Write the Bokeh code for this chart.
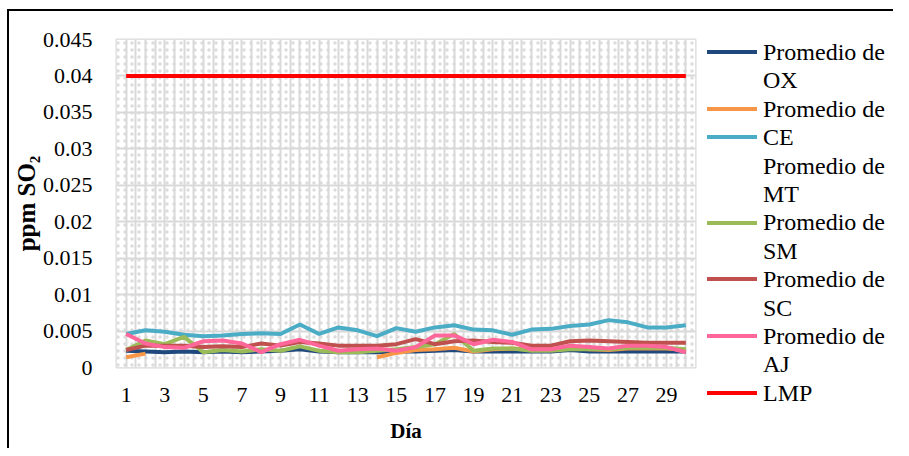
import math
from bokeh.plotting import figure
from bokeh.models import FixedTicker, Range1d, Div
from bokeh.layouts import row, column
from bokeh.embed import file_html
from bokeh.resources import INLINE

days = list(range(1, 31))
nan = float("nan")

ox = [0.0023, 0.0022, 0.0021, 0.0022, 0.0021, 0.0022, 0.0021, 0.0022, 0.0023, 0.0025,
      0.0022, 0.0021, 0.0021, 0.0021, 0.0022, 0.0022, 0.0023, 0.0024, 0.0022, 0.0022,
      0.0022, 0.0022, 0.0022, 0.0024, 0.0022, 0.0022, 0.0022, 0.0022, 0.0022, 0.0022]
ce = [0.0014, 0.0019, nan, nan, nan, nan, nan, nan, nan, nan,
      nan, nan, nan, 0.0014, 0.0020, 0.0024, 0.0025, 0.0027, 0.0022, 0.0025,
      0.0026, 0.0025, 0.0025, 0.0027, 0.0025, 0.0024, 0.0026, 0.0026, 0.0026, 0.0024]
mt = [0.0046, 0.0051, 0.0049, 0.0045, 0.0043, 0.0044, 0.0046, 0.0047, 0.0046, 0.0059,
      0.0046, 0.0055, 0.0051, 0.0043, 0.0054, 0.0049, 0.0055, 0.0058, 0.0052, 0.0051,
      0.0045, 0.0052, 0.0053, 0.0057, 0.0059, 0.0065, 0.0062, 0.0055, 0.0055, 0.0058]
sm = [0.0024, 0.0037, 0.0032, 0.0042, 0.0021, 0.0024, 0.0022, 0.0025, 0.0023, 0.0029,
      0.0023, 0.0021, 0.0021, 0.0023, 0.0025, 0.0028, 0.0032, 0.0046, 0.0023, 0.0026,
      0.0026, 0.0023, 0.0023, 0.0025, 0.0025, 0.0025, 0.0027, 0.0027, 0.0027, 0.0025]
sc = [0.0024, 0.0030, 0.0030, 0.0030, 0.0028, 0.0029, 0.0028, 0.0033, 0.0030, 0.0035,
      0.0033, 0.0030, 0.0030, 0.0030, 0.0032, 0.0039, 0.0032, 0.0036, 0.0037, 0.0035,
      0.0034, 0.0030, 0.0030, 0.0036, 0.0037, 0.0036, 0.0035, 0.0034, 0.0034, 0.0034]
aj = [0.0046, 0.0033, 0.0028, 0.0027, 0.0036, 0.0037, 0.0033, 0.0021, 0.0032, 0.0038,
      0.0030, 0.0023, 0.0025, 0.0026, 0.0023, 0.0028, 0.0044, 0.0044, 0.0032, 0.0038,
      0.0035, 0.0025, 0.0025, 0.0030, 0.0028, 0.0026, 0.0030, 0.0030, 0.0028, 0.0021]
lmp = [0.04] * 30

series_keys = ["OX", "CE", "MT", "SM", "SC", "AJ", "LMP"]
series_values = [ox, ce, mt, sm, sc, aj, lmp]
series_colors = ["#1F497D", "#F79646", "#4BACC6", "#9BBB59", "#C0504D", "#FF6699", "#FF0000"]
label_prefix = "Promedio de"

x_ticks = list(range(1, 30, 2))
y_ticks = [0, 0.005, 0.01, 0.015, 0.02, 0.025, 0.03, 0.035, 0.04, 0.045]
y_tick_labels = ["0", "0.005", "0.01", "0.015", "0.02", "0.025", "0.03", "0.035", "0.04", "0.045"]

FONT = "Liberation Serif"
GRID = "#d9d9d9"
H = 437

p = figure(width=688, height=H, output_backend="svg", toolbar_location=None,
           x_range=Range1d(0.5, 30.5), y_range=Range1d(0, 0.045),
           min_border_left=104, min_border_right=2, min_border_top=28,
           min_border_bottom=81)

# background texture
p.quad(left=[0.5], right=[30.5], bottom=[0], top=[0.045], fill_color="white",
       line_color=None, hatch_pattern="dot", hatch_color="#dcdcdc", hatch_scale=7,
       hatch_weight=1.5, level="underlay")

p.outline_line_color = GRID
p.outline_line_width = 2
p.background_fill_color = "white"

p.xgrid.ticker = FixedTicker(ticks=[0.5 + 0.5 * i for i in range(61)])
p.xgrid.grid_line_color = GRID
p.xgrid.grid_line_width = 2
p.ygrid.ticker = FixedTicker(ticks=y_ticks)
p.ygrid.grid_line_color = GRID
p.ygrid.grid_line_width = 2

p.xaxis.ticker = FixedTicker(ticks=x_ticks)
p.yaxis.ticker = FixedTicker(ticks=y_ticks)
p.yaxis.major_label_overrides = {t: s for t, s in zip(y_ticks, y_tick_labels)}
for ax in (p.xaxis[0], p.yaxis[0]):
    ax.axis_line_color = None
    ax.major_tick_line_color = None
    ax.minor_tick_line_color = None
    ax.major_label_text_font = FONT
    ax.major_label_text_font_size = "22px"
    ax.major_label_text_color = "black"
    ax.axis_label_text_font = FONT
    ax.axis_label_text_font_style = "bold"
    ax.axis_label_text_color = "black"
p.xaxis.axis_label = "Día"
p.xaxis.axis_label_text_font_size = "21px"
p.yaxis.axis_label = "ppm SO₂"
p.yaxis.axis_label_text_font_size = "25px"
p.yaxis.major_label_standoff = 18
p.yaxis.axis_label_standoff = 0
p.xaxis.major_label_standoff = 14
p.xaxis.axis_label_standoff = 14

for key, vals, col in zip(series_keys, series_values, series_colors):
    p.line(days, vals, line_color=col, line_width=4)

# legend as real HTML text beside the plot
color_of = dict(zip(series_keys, series_colors))
legend_rows = [
    ("OX", label_prefix), (None, "OX"),
    ("CE", label_prefix), ("MT", "CE"),
    (None, label_prefix), (None, "MT"),
    ("SM", label_prefix), (None, "SM"),
    ("SC", label_prefix), (None, "SC"),
    ("AJ", label_prefix), (None, "AJ"),
    ("LMP", "LMP"),
]
row_html = []
for key, text in legend_rows:
    swatch = color_of[key] if key else "transparent"
    row_html.append(
        '<div style="height:28.4px;line-height:28.4px;display:flex;'
        'align-items:center;white-space:nowrap;">'
        f'<span style="display:inline-block;width:50px;height:4px;margin-right:6px;'
        f'background:{swatch};"></span><span>{text}</span></div>')
legend_html = ('<div style="padding:27px 0 0 10px;font-family:\'Liberation Serif\','
               'serif;font-size:24px;color:black;">' + "".join(row_html) + '</div>')
legend_div = Div(text=legend_html, width=196, height=H, margin=0)

gap_style = {"flex-shrink": "0"}
top_gap = Div(text="", width=10, height=9, margin=0, styles=gap_style)
left_gap = Div(text="", width=7, height=H, margin=0, styles=gap_style)
left_gap2 = Div(text="", width=7, height=2, margin=0, styles=gap_style)
top_bar = Div(text="", width=886, height=2, margin=0, styles={"background-color": "black"})
left_bar = Div(text="", width=2, height=H, margin=0, styles={"background-color": "black"})
layout = column(top_gap,
                row(left_gap2, top_bar),
                row(left_gap, left_bar, p, legend_div))
open("out.html", "w").write(file_html(layout, INLINE))
